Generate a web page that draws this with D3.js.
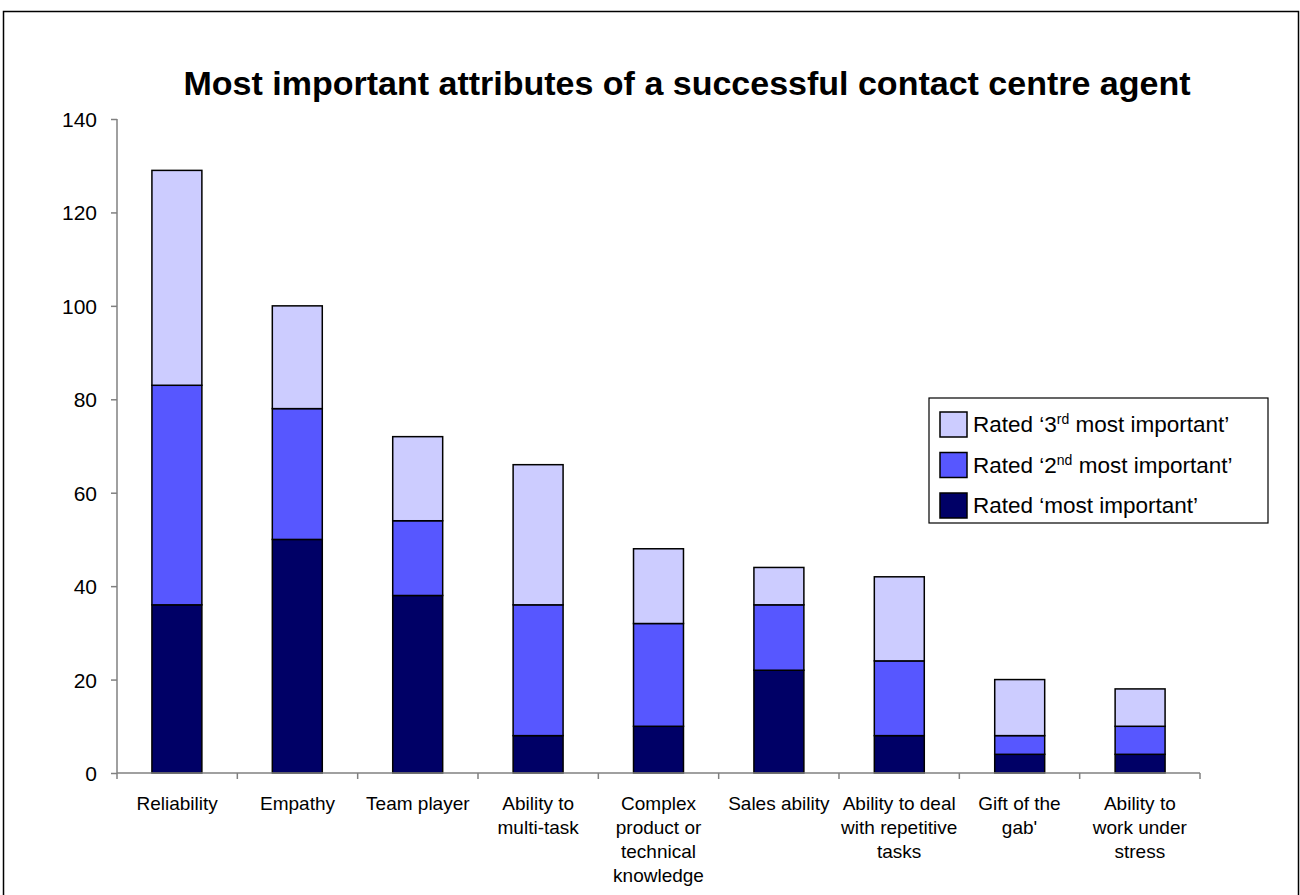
<!DOCTYPE html>
<html>
<head>
<meta charset="utf-8">
<script src="https://cdnjs.cloudflare.com/ajax/libs/d3/7.8.5/d3.min.js"></script>
<style>
  body { margin: 0; background: #fff; }
  svg { font-family: Arial, "Liberation Sans", sans-serif; }
</style>
</head>
<body>
<svg width="1300" height="895"></svg>
<script>
// categories, one entry per line of the axis label
var categories = [
  ["Reliability"],
  ["Empathy"],
  ["Team player"],
  ["Ability to", "multi-task"],
  ["Complex", "product or", "technical", "knowledge"],
  ["Sales ability"],
  ["Ability to deal", "with repetitive", "tasks"],
  ["Gift of the", "gab'"],
  ["Ability to", "work under", "stress"]
];
var mostImportant   = [36, 50, 38, 8, 10, 22, 8, 4, 4];
var secondImportant = [47, 28, 16, 28, 22, 14, 16, 4, 6];
var thirdImportant  = [46, 22, 18, 30, 16, 8, 18, 12, 8];
var yTicks = [0, 20, 40, 60, 80, 100, 120, 140];
var seriesKeys = ["most", "second", "third"];
var colors = { most: "#000066", second: "#5757FF", third: "#CCCCFF" };

var svg = d3.select("svg");

// outer frame
svg.append("rect")
  .attr("x", 3.5).attr("y", 11.5)
  .attr("width", 1295).attr("height", 900)
  .attr("fill", "none").attr("stroke", "#000").attr("stroke-width", 1.5);

svg.append("text")
  .attr("x", 687).attr("y", 95)
  .attr("text-anchor", "middle")
  .attr("font-size", 34).attr("font-weight", "bold")
  .text("Most important attributes of a successful contact centre agent");

var plotLeft = 117, plotRight = 1200, plotTop = 119, plotBottom = 773;

var names = categories.map(function(c) { return c.join(" "); });
var x = d3.scaleBand().domain(names).range([plotLeft, plotRight]).paddingInner(0.585).paddingOuter(0.29);
var band = d3.scaleBand().domain(names).range([plotLeft, plotRight]);
var y = d3.scaleLinear().domain([0, 140]).range([plotBottom, plotTop]);

var rows = names.map(function(n, i) {
  return { name: n, most: mostImportant[i], second: secondImportant[i], third: thirdImportant[i] };
});
var stacked = d3.stack().keys(seriesKeys)(rows);

svg.append("g")
  .selectAll("g")
  .data(stacked)
  .enter().append("g")
    .attr("fill", function(d) { return colors[d.key]; })
  .selectAll("rect")
  .data(function(d) { return d; })
  .enter().append("rect")
    .attr("x", function(d) { return x(d.data.name); })
    .attr("width", x.bandwidth())
    .attr("y", function(d) { return y(d[1]); })
    .attr("height", function(d) { return y(d[0]) - y(d[1]); })
    .attr("stroke", "#000")
    .attr("stroke-width", 1.5);

// y axis
var yAxis = svg.append("g")
  .attr("transform", "translate(" + plotLeft + ",0)")
  .call(d3.axisLeft(y).tickValues(yTicks).tickSize(6).tickPadding(14));
yAxis.selectAll("line, path").attr("stroke", "#808080").attr("stroke-width", 1.5);
yAxis.select(".domain").attr("d", "M0," + plotTop + "V" + plotBottom);
yAxis.selectAll("text").attr("font-size", 21).attr("fill", "#000")
  .attr("font-family", "Arial, 'Liberation Sans', sans-serif").attr("dy", "0.36em");

// x axis with ticks on category boundaries
var xAxis = svg.append("g");
xAxis.append("line")
  .attr("x1", plotLeft).attr("x2", plotRight).attr("y1", plotBottom).attr("y2", plotBottom)
  .attr("stroke", "#808080").attr("stroke-width", 1.5);
xAxis.selectAll("line.tick")
  .data(names.concat(["end"]))
  .enter().append("line")
    .attr("class", "tick")
    .attr("x1", function(d) { return d === "end" ? plotRight : band(d); })
    .attr("x2", function(d) { return d === "end" ? plotRight : band(d); })
    .attr("y1", plotBottom).attr("y2", plotBottom + 6)
    .attr("stroke", "#808080").attr("stroke-width", 1.5);

var labels = xAxis.selectAll("text")
  .data(categories)
  .enter().append("text")
    .attr("text-anchor", "middle")
    .attr("font-size", 19)
    .attr("transform", function(d, i) { return "translate(" + (band(names[i]) + band.bandwidth() / 2) + "," + 810 + ")"; });
labels.selectAll("tspan")
  .data(function(d) { return d; })
  .enter().append("tspan")
    .attr("x", 0)
    .attr("y", function(d, i) { return i * 24; })
    .text(function(d) { return d; });

// legend
var legendItems = [
  { key: "third", pre: "Rated \u20183", sup: "rd", post: " most important\u2019" },
  { key: "second", pre: "Rated \u20182", sup: "nd", post: " most important\u2019" },
  { key: "most", pre: "Rated \u2018most important\u2019", sup: "", post: "" }
];
var legend = svg.append("g").attr("transform", "translate(929,398)");
legend.append("rect")
  .attr("width", 339).attr("height", 125)
  .attr("fill", "#fff").attr("stroke", "#000").attr("stroke-width", 1.2);
var item = legend.selectAll("g.item")
  .data(legendItems)
  .enter().append("g")
    .attr("class", "item")
    .attr("transform", function(d, i) { return "translate(11," + (14 + i * 40.5) + ")"; });
item.append("rect")
  .attr("width", 27).attr("height", 25)
  .attr("fill", function(d) { return colors[d.key]; })
  .attr("stroke", "#000").attr("stroke-width", 1.5);
var t = item.append("text")
  .attr("x", 33).attr("y", 20)
  .attr("font-size", 22.5);
t.append("tspan").text(function(d) { return d.pre; });
t.append("tspan").attr("font-size", 14).attr("dy", -8).text(function(d) { return d.sup; });
t.append("tspan").attr("dy", function(d) { return d.sup ? 8 : 0; }).text(function(d) { return d.post; });
</script>
</body>
</html>
